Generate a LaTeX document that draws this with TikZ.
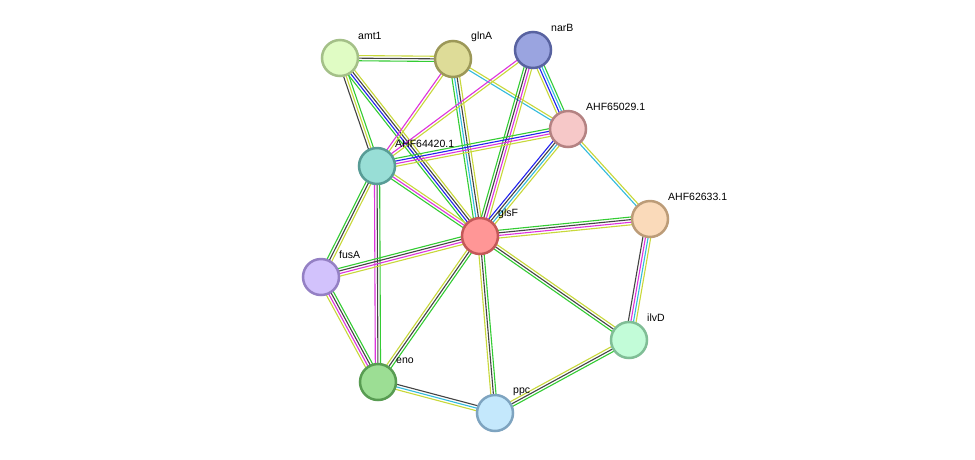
\documentclass[tikz,border=0pt]{standalone}
\usepackage{fontspec}
\setmainfont{Liberation Sans}
\usetikzlibrary{calc}
\definecolor{eg}{HTML}{33CC33}
\definecolor{eb}{HTML}{2222EE}
\definecolor{ed}{HTML}{444444}
\definecolor{ey}{HTML}{C8D83A}
\definecolor{em}{HTML}{DD33DD}
\definecolor{ec}{HTML}{33BBDD}
\tikzset{
  prot/.style={circle, minimum size=36pt, inner sep=0pt, line width=2.5pt},
  plab/.style={anchor=west, font=\fontsize{10.5}{12}\selectfont, inner sep=1pt},
}
\newcommand{\edge}[4]{%
  \foreach \cl [count=\i] in {#4} {%
    \pgfmathsetmacro{\off}{(\i-(#3+1)/2)*2.6}%
    \draw[draw=\cl, line width=1.1pt] ($(#1)!\off pt!90:(#2)$) -- ($(#2)!\off pt!-90:(#1)$);
  }}
\begin{document}
\begin{tikzpicture}[x=1pt,y=-1pt]
\useasboundingbox (0,0) rectangle (975,459);
\fill[white] (0,0) rectangle (975,459);
\coordinate (amt) at (340,58);
\coordinate (gln) at (453,59);
\coordinate (nar) at (533,50);
\coordinate (a5029) at (568,129);
\coordinate (a4420) at (377,166);
\coordinate (gls) at (480,236);
\coordinate (a2633) at (650,219);
\coordinate (fus) at (321,277);
\coordinate (ilv) at (629,340);
\coordinate (eno) at (378,382);
\coordinate (ppc) at (495,413);
\edge{amt}{gln}{3}{eg,ed,ey}
\edge{amt}{gls}{4}{eg,eb,ed,ey}
\edge{amt}{a4420}{3}{ed,ey,eg}
\edge{gln}{gls}{4}{eg,ec,ed,ey}
\edge{gln}{a4420}{2}{em,ey}
\edge{gln}{a5029}{2}{ec,ey}
\edge{nar}{a4420}{2}{em,ey}
\edge{nar}{gls}{4}{eg,ed,em,ey}
\edge{nar}{a5029}{4}{ey,eb,ec,eg}
\edge{a4420}{a5029}{4}{ey,em,eb,eg}
\edge{a5029}{gls}{4}{eb,ed,ec,ey}
\edge{a5029}{a2633}{2}{ec,ey}
\edge{a4420}{gls}{3}{eg,em,ey}
\edge{a4420}{fus}{3}{eg,ed,ey}
\edge{a4420}{eno}{3}{em,ed,eg}
\edge{gls}{a2633}{4}{ey,em,ed,eg}
\edge{gls}{fus}{4}{eg,ed,em,ey}
\edge{gls}{eno}{3}{ey,ed,eg}
\edge{gls}{ppc}{3}{ey,ed,eg}
\edge{gls}{ilv}{3}{eg,ed,ey}
\edge{a2633}{ilv}{4}{ed,em,ec,ey}
\edge{fus}{eno}{4}{ey,em,ed,eg}
\edge{eno}{ppc}{3}{ey,ec,ed}
\edge{ppc}{ilv}{3}{eg,ed,ey}
\node[prot, fill={rgb,255:red,224;green,252;blue,196}, draw={rgb,255:red,164;green,192;blue,136}] (n1) at (amt) {};
\node[prot, fill={rgb,255:red,222;green,220;blue,152}, draw={rgb,255:red,156;green,152;blue,88}] (n2) at (gln) {};
\node[prot, fill={rgb,255:red,154;green,164;blue,224}, draw={rgb,255:red,88;green,98;blue,160}] (n3) at (nar) {};
\node[prot, fill={rgb,255:red,246;green,200;blue,200}, draw={rgb,255:red,180;green,130;blue,130}] (n4) at (a5029) {};
\node[prot, fill={rgb,255:red,152;green,222;blue,214}, draw={rgb,255:red,88;green,156;blue,150}] (n5) at (a4420) {};
\node[prot, fill={rgb,255:red,255;green,150;blue,150}, draw={rgb,255:red,196;green,88;blue,88}] (n6) at (gls) {};
\node[prot, fill={rgb,255:red,250;green,218;blue,186}, draw={rgb,255:red,188;green,156;blue,120}] (n7) at (a2633) {};
\node[prot, fill={rgb,255:red,210;green,194;blue,252}, draw={rgb,255:red,148;green,128;blue,196}] (n8) at (fus) {};
\node[prot, fill={rgb,255:red,194;green,252;blue,216}, draw={rgb,255:red,128;green,190;blue,150}] (n9) at (ilv) {};
\node[prot, fill={rgb,255:red,156;green,222;blue,148}, draw={rgb,255:red,88;green,156;blue,82}] (n10) at (eno) {};
\node[prot, fill={rgb,255:red,196;green,232;blue,252}, draw={rgb,255:red,126;green,164;blue,192}] (n11) at (ppc) {};
\node[plab] at (357,36) {amt1};
\node[plab] at (470,37) {glnA};
\node[plab] at (550,28) {narB};
\node[plab] at (585,107) {AHF65029.1};
\node[plab] at (394,144) {AHF64420.1};
\node[plab] at (497,214) {glsF};
\node[plab] at (667,197) {AHF62633.1};
\node[plab] at (338,255) {fusA};
\node[plab] at (646,318) {ilvD};
\node[plab] at (395,361) {eno};
\node[plab] at (512,392) {ppc};
\end{tikzpicture}
\end{document}
